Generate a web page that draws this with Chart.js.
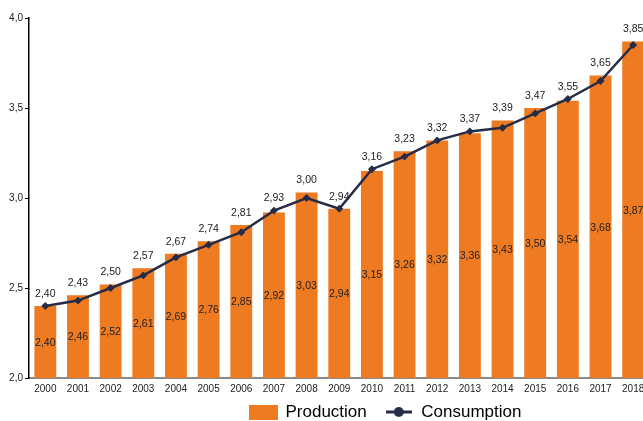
<!DOCTYPE html>
<html>
<head>
<meta charset="utf-8">
<script src="https://cdn.jsdelivr.net/npm/chart.js@4/dist/chart.umd.min.js"></script>
<style>
  html, body { margin: 0; padding: 0; background: #fff; overflow: hidden; }
  #wrap { position: relative; width: 656px; height: 421px; }
</style>
</head>
<body>
<div id="wrap"><canvas id="c" width="656" height="421"></canvas></div>
<script>
const years = ['2000','2001','2002','2003','2004','2005','2006','2007','2008','2009','2010','2011','2012','2013','2014','2015','2016','2017','2018'];
const production = [2.40, 2.46, 2.52, 2.61, 2.69, 2.76, 2.85, 2.92, 3.03, 2.94, 3.15, 3.26, 3.32, 3.36, 3.43, 3.50, 3.54, 3.68, 3.87];
const consumption = [2.40, 2.43, 2.50, 2.57, 2.67, 2.74, 2.81, 2.93, 3.00, 2.94, 3.16, 3.23, 3.32, 3.37, 3.39, 3.47, 3.55, 3.65, 3.85];
const seriesNames = ['Production', 'Consumption'];
const yTicks = [2.0, 2.5, 3.0, 3.5, 4.0];

const ORANGE = '#EE7A22';
const NAVY = '#262C45';
const TXT = '#222222';
const FONT = "'Liberation Sans', Arial, sans-serif";

const fmt = (v, d) => v.toFixed(d).replace('.', ',');

function makeIcon(kind) {
  const c = document.createElement('canvas');
  if (kind === 'bar') {
    c.width = 29; c.height = 15;
    const g = c.getContext('2d');
    g.fillStyle = ORANGE; g.fillRect(0, 0, 29, 15);
  } else {
    c.width = 26; c.height = 14;
    const g = c.getContext('2d');
    g.strokeStyle = NAVY; g.lineWidth = 3;
    g.beginPath(); g.moveTo(0, 7); g.lineTo(26, 7); g.stroke();
    g.fillStyle = NAVY; g.beginPath(); g.arc(13, 7, 5, 0, Math.PI * 2); g.fill();
  }
  return c;
}
const icons = [makeIcon('bar'), makeIcon('line')];

const labelPlugin = {
  id: 'valueLabels',
  afterDatasetsDraw(chart) {
    const ctx = chart.ctx;
    const barMeta = chart.getDatasetMeta(0);
    const lineMeta = chart.getDatasetMeta(1);
    const bottom = chart.scales.y.getPixelForValue(chart.scales.y.min);
    ctx.save();
    ctx.font = '10.5px ' + FONT;
    ctx.fillStyle = TXT;
    ctx.textAlign = 'center';
    ctx.textBaseline = 'middle';
    barMeta.data.forEach((bar, i) => {
      const p = bar.getProps(['x', 'y'], true);
      ctx.fillText(fmt(production[i], 2), p.x, (p.y + bottom) / 2 + 1);
    });
    lineMeta.data.forEach((pt, i) => {
      const bp = barMeta.data[i].getProps(['y'], true);
      const top = Math.min(pt.y, bp.y);
      ctx.fillText(fmt(consumption[i], 2), pt.x, top - 12);
    });
    ctx.restore();
  }
};

const legendPlace = {
  id: 'legendPlace',
  afterLayout(chart) {
    const lg = chart.legend;
    const pad = lg.options.labels.padding;
    const fs = lg.options.labels.font.size;
    const w = lg.width;
    lg.left = 249 - pad; lg.right = lg.left + w;
    lg.top = 412 - pad - fs / 2; lg.bottom = chart.height;
    lg.height = lg.bottom - lg.top;
  }
};

new Chart(document.getElementById('c'), {
  data: {
    labels: years,
    datasets: [
      {
        type: 'bar',
        label: seriesNames[0],
        data: production,
        backgroundColor: ORANGE,
        borderWidth: 0,
        categoryPercentage: 1.0,
        barPercentage: 0.67,
        order: 2
      },
      {
        type: 'line',
        label: seriesNames[1],
        data: consumption,
        borderColor: NAVY,
        backgroundColor: NAVY,
        borderWidth: 2.5,
        pointRadius: 2.2,
        pointStyle: 'rectRot',
        pointBackgroundColor: NAVY,
        pointBorderColor: NAVY,
        tension: 0,
        order: 1
      }
    ]
  },
  options: {
    responsive: false,
    animation: false,
    devicePixelRatio: 1,
    layout: { padding: { top: 18, right: 0, bottom: 5, left: 0 } },
    plugins: {
      tooltip: { enabled: false },
      legend: {
        position: 'bottom',
        align: 'start',
        maxHeight: 18,
        labels: {
          usePointStyle: true,
          pointStyleWidth: 28,
          boxHeight: 15,
          padding: 18,
          color: TXT,
          font: { family: FONT, size: 17 },
          generateLabels: () => seriesNames.map((n, i) => ({
            text: n,
            pointStyle: icons[i],
            fillStyle: i === 0 ? ORANGE : NAVY,
            strokeStyle: 'transparent',
            lineWidth: 0,
            hidden: false,
            datasetIndex: i
          }))
        }
      }
    },
    scales: {
      x: {
        type: 'category',
        offset: true,
        grid: { display: false, drawTicks: false },
        border: { display: true, color: '#8a8a8a', width: 2 },
        ticks: { color: TXT, font: { family: FONT, size: 10 }, padding: 5, maxRotation: 0, autoSkip: false },
        afterFit: (s) => { s.height = 20; }
      },
      y: {
        type: 'linear',
        min: yTicks[0],
        max: yTicks[yTicks.length - 1],
        afterBuildTicks: (s) => { s.ticks = yTicks.map(v => ({ value: v })); },
        grid: { drawOnChartArea: false, drawTicks: true, tickLength: 4, color: '#000', lineWidth: 1 },
        border: { display: true, color: '#000', width: 1.5 },
        ticks: { color: TXT, font: { family: FONT, size: 10 }, padding: 2, callback: (v) => fmt(v, 1) },
        afterFit: (s) => { s.width = 29; }
      }
    }
  },
  plugins: [labelPlugin, legendPlace]
});
</script>
</body>
</html>
